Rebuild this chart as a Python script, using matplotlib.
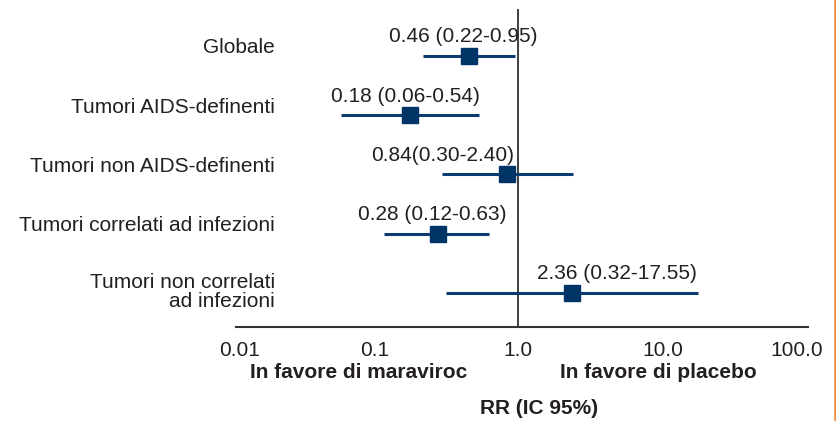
import matplotlib
matplotlib.use("Agg")
import matplotlib.pyplot as plt
from matplotlib.lines import Line2D
from matplotlib.transforms import blended_transform_factory, offset_copy, ScaledTranslation

# dati del forest plot
gruppi = ["Globale", "Tumori AIDS-definenti", "Tumori non AIDS-definenti",
          "Tumori correlati ad infezioni", "Tumori non correlati\nad infezioni"]
rr = [0.46, 0.18, 0.84, 0.28, 2.36]
ic_low = [0.22, 0.06, 0.30, 0.12, 0.32]
ic_high = [0.95, 0.54, 2.40, 0.63, 17.55]
etichette = ["0.46 (0.22-0.95)", "0.18 (0.06-0.54)", "0.84(0.30-2.40)",
             "0.28 (0.12-0.63)", "2.36 (0.32-17.55)"]
tick_vals = [0.01, 0.1, 1.0, 10.0, 100.0]
tick_labels = ["0.01", "0.1", "1.0", "10.0", "100.0"]

W, H = 837, 421
blu = "#003466"
testo = "#231f20"
plt.rcParams['font.family'] = ['Liberation Sans', 'DejaVu Sans']
fs = 15

fig = plt.figure(figsize=(W / 100, H / 100), dpi=100)
ax = fig.add_axes([228 / W, (H - 327) / H, 580 / W, 318 / H])
ax.set_xscale("log")
ax.set_xlim(0.01, 100)
ax.set_ylim(4.574, -0.793)

righe = list(range(len(gruppi)))
ax.hlines(righe, ic_low, ic_high, color="#0b3c70", lw=2.2, zorder=2)
ax.plot(rr, righe, "s", color=blu, ms=11, zorder=3)
ax.axvline(1.0, color=testo, lw=1.2, zorder=1)

# testo sopra ogni stima
dx_pix = [-6, -5, -64, -6, 45]
for y, x, lab, dx in zip(righe, rr, etichette, dx_pix):
    ax.annotate(lab, (x, y), xytext=(dx * 0.72, 19 * 0.72), textcoords="offset points",
                ha="center", va="center", fontsize=fs, color=testo)

# etichette dei gruppi a sinistra
tr = blended_transform_factory(fig.transFigure, ax.transData)
for y, g in zip(righe, gruppi):
    dy = 1 if "\n" in g else 8
    ax.text(275 / W, y, g, transform=offset_copy(tr, fig=fig, y=dy * 0.72, units="points"),
            ha="right", va="center", fontsize=fs, color=testo, linespacing=0.95)

for s in ["top", "right", "left"]:
    ax.spines[s].set_visible(False)
ax.spines["bottom"].set_bounds(0.0114, 100)
ax.spines["bottom"].set_color("#333333")
ax.spines["bottom"].set_linewidth(1.5)
ax.set_yticks([])
ax.set_xticks(tick_vals)
ax.set_xticklabels(tick_labels)
ax.minorticks_off()
ax.tick_params(axis="x", length=0, pad=10, labelsize=fs, labelcolor=testo)

# le etichette estreme sono spostate verso l'interno
spost = [12, 2, 0, 0, -11]
for lab, d in zip(ax.get_xticklabels(), spost):
    lab.set_transform(lab.get_transform() + ScaledTranslation(d / 100, 0, fig.dpi_scale_trans))

fig.text(359 / W, 1 - 373 / H, "In favore di maraviroc", ha="center", va="center",
         fontsize=fs, fontweight="bold", color=testo)
fig.text(658 / W, 1 - 373 / H, "In favore di placebo", ha="center", va="center",
         fontsize=fs, fontweight="bold", color=testo)
fig.text(539 / W, 1 - 408 / H, "RR (IC 95%)", ha="center", va="center",
         fontsize=fs, fontweight="bold", color=testo)

# bordo arancione a destra
fig.add_artist(Line2D([835 / W, 835 / W], [0, 1], color="#f08a3c", lw=1.8,
                      transform=fig.transFigure))

fig.savefig("out.png", dpi=100)
